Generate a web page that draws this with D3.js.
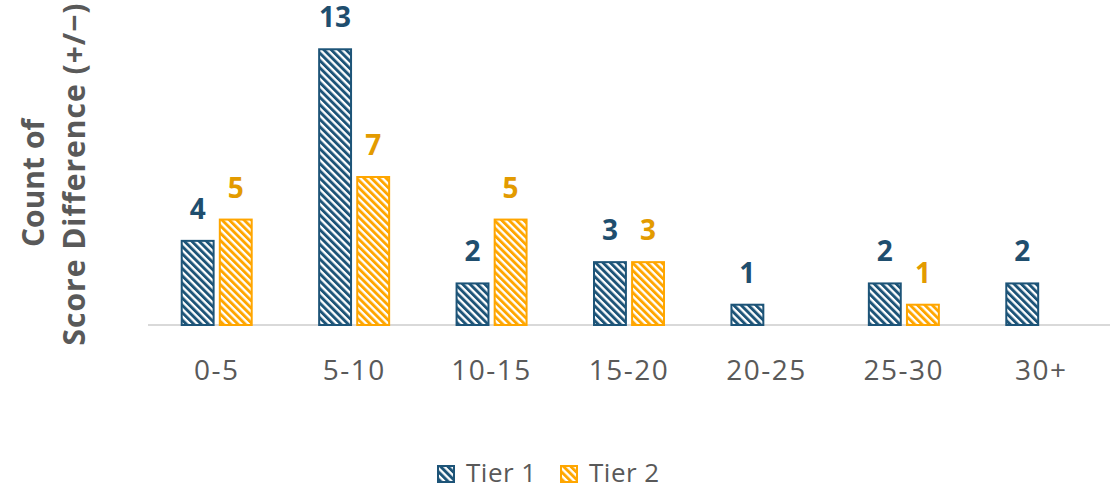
<!DOCTYPE html>
<html><head><meta charset="utf-8">
<script src="https://cdn.jsdelivr.net/npm/d3@7"></script>
<style>body{margin:0;background:#fff;} svg{display:block;font-family:"Open Sans","Noto Sans",sans-serif;}</style>
</head><body>
<svg id="chart" width="1114" height="489"></svg>
<script>
const categories = ["0-5","5-10","10-15","15-20","20-25","25-30","30+"];
const seriesNames = ["Tier 1","Tier 2"];
const tier1 = [4,13,2,3,1,2,2];
const tier2 = [5,7,5,3,null,1,null];
const fillColors = ["#1d5478","#ffa600"];
const labelColors = ["#1f4e6e","#e39b00"];

const svg = d3.select("#chart");
const W = 1114, H = 489;
const m = {left:148, right:4, top:27, bottom:164};
const x = d3.scaleBand().domain(categories).range([m.left, W - m.right]).padding(0);
const y = d3.scaleLinear().domain([0,14]).range([H - m.bottom, m.top]);
const x1 = d3.scaleBand().domain(seriesNames).range([0, 72]).paddingInner(0.11);

const defs = svg.append("defs");
fillColors.forEach((c,i)=>{
  const p = defs.append("pattern").attr("id","pat"+i).attr("patternUnits","userSpaceOnUse")
    .attr("width",5.2).attr("height",5.2).attr("patternTransform","rotate(-45)");
  p.append("rect").attr("width",5.2).attr("height",5.2).attr("fill","#fff");
  p.append("rect").attr("width",2.9).attr("height",5.2).attr("fill",c);
});

// baseline
svg.append("line").attr("x1",m.left).attr("x2",W-m.right).attr("y1",y(0)).attr("y2",y(0))
  .attr("stroke","#d9d9d9").attr("stroke-width",2);

const data = [tier1, tier2];
seriesNames.forEach((s,si)=>{
  const vals = data[si];
  const g = svg.append("g");
  categories.forEach((c,ci)=>{
    const v = vals[ci];
    if (v == null) return;
    const bx = x(c) + x.bandwidth()/2 - 36 + x1(s);
    g.append("rect").attr("x",bx+1).attr("y",y(v)+1).attr("width",x1.bandwidth()-2).attr("height",y(0)-y(v)-1)
      .attr("fill","url(#pat"+si+")").attr("stroke",fillColors[si]).attr("stroke-width",2);
    g.append("text").attr("x",bx + x1.bandwidth()/2).attr("y",y(v)-21).attr("text-anchor","middle")
      .attr("font-size",28).attr("font-weight",700).attr("fill",labelColors[si]).text(v);
  });
});

// x axis labels
const xAxis = d3.axisBottom(x).tickSize(0);
const xg = svg.append("g").attr("transform",`translate(0,${y(0)})`).call(xAxis);
xg.select(".domain").remove();
xg.selectAll("text").attr("y",55).attr("dy",0).attr("font-size",28).attr("letter-spacing",1.5)
  .attr("fill","#595959").attr("font-family","'Open Sans',sans-serif");

// y title
const yt = svg.append("text").attr("transform","rotate(-90)").attr("text-anchor","middle")
  .attr("font-size",30).attr("font-weight",700).attr("fill","#595959");
yt.append("tspan").attr("x",-183).attr("y",44).text("Count of");
yt.append("tspan").attr("x",-174).attr("y",85).attr("letter-spacing",1).text("Score Difference (+/−)");

// legend
const legend = svg.append("g");
const lx = [437, 560];
seriesNames.forEach((s,i)=>{
  const gg = legend.append("g").attr("transform",`translate(${lx[i]},465)`);
  gg.append("rect").attr("x",1).attr("y",1).attr("width",16).attr("height",16)
    .attr("fill","url(#pat"+i+")").attr("stroke",fillColors[i]).attr("stroke-width",2);
  gg.append("text").attr("x",29).attr("y",17).attr("font-size",26).attr("letter-spacing",0.5)
    .attr("fill","#595959").text(s);
});
</script>
</body></html>
